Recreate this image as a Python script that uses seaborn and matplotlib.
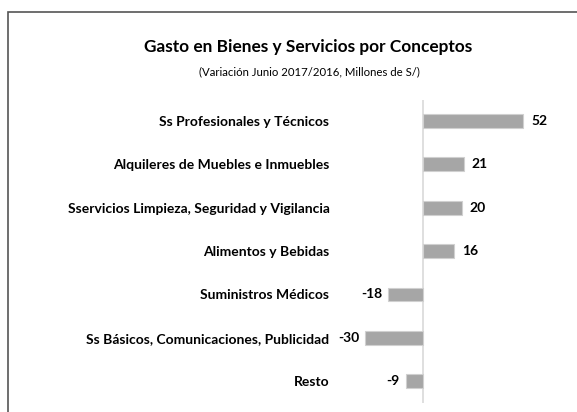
import matplotlib
matplotlib.use("Agg")
import matplotlib.pyplot as plt
import seaborn as sns
import pandas as pd
from matplotlib.patches import Rectangle

conceptos = [
    "Ss Profesionales y Técnicos",
    "Alquileres de Muebles e Inmuebles",
    "Sservicios Limpieza, Seguridad y Vigilancia",
    "Alimentos y Bebidas",
    "Suministros Médicos",
    "Ss Básicos, Comunicaciones, Publicidad",
    "Resto",
]
variacion = [52, 21, 20, 16, -18, -30, -9]

df = pd.DataFrame({"concepto": conceptos, "variacion": variacion})

sns.set_style("white")
plt.rcParams["font.family"] = ["Lato", "DejaVu Sans"]
plt.rcParams["text.color"] = "black"
plt.rcParams["ytick.color"] = "black"

fig = plt.figure(figsize=(5.77, 4.12), dpi=100)
ax = fig.add_axes([0.5806, 0.0218, 0.39, 0.7354])

sns.barplot(data=df, x="variacion", y="concepto", color="#a6a6a6",
            saturation=1, width=0.32, edgecolor="#d0d0d0", linewidth=0.8, ax=ax)

ax.set_xlim(-45.6, 71)
ax.set_ylim(6.5, -0.48)
ax.axvline(0, color="#d9d9d9", lw=1.2, zorder=0)
for s in ax.spines.values():
    s.set_visible(False)
ax.set_xticks([])
ax.set_xlabel("")
ax.set_ylabel("")
ax.tick_params(axis="y", length=0, pad=4)
for t in ax.get_yticklabels():
    t.set_fontweight("bold")
    t.set_fontsize(10)

for i, v in enumerate(variacion):
    if v >= 0:
        ax.text(v + 4, i, f"{v}", ha="left", va="center", fontsize=10, fontweight="bold")
    else:
        ax.text(v - 3, i, f"{v}", ha="right", va="center", fontsize=10, fontweight="bold")

fig.text(0.534, 0.887, "Gasto en Bienes y Servicios por Conceptos", ha="center", va="center",
         fontsize=12.4, fontweight="bold")
fig.text(0.536, 0.825, "(Variación Junio 2017/2016, Millones de S/)", ha="center", va="center",
         fontsize=8.2)

fig.patches.append(Rectangle((8 / 577, -0.2), 1.2, 1.2 - 11.5 / 412, transform=fig.transFigure,
                             fill=False, edgecolor="#555555", lw=1.2))

fig.savefig("out.png", dpi=100)
